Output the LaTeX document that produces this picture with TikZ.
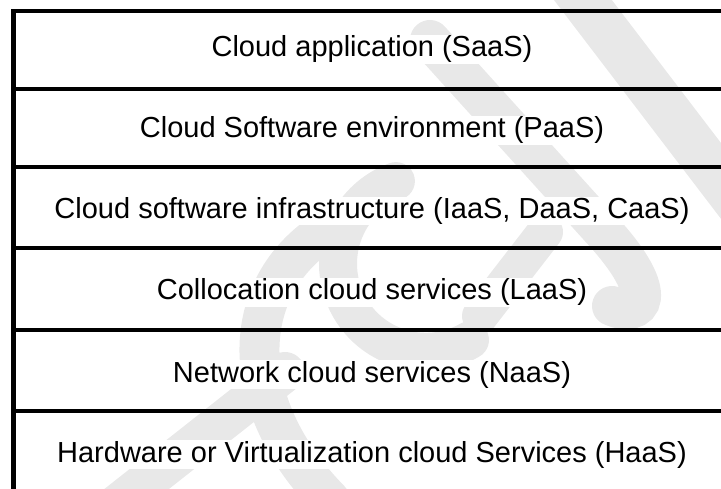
\documentclass[tikz,border=0pt]{standalone}
\usepackage{fontspec}
\setmainfont{Liberation Sans}
\begin{document}
\begin{tikzpicture}[x=1pt,y=-1pt,
  rule/.style={draw=black, line width=4.2pt},
  wmark/.style={draw=black!9, line width=40pt, line cap=round},
  layer/.style={fill=white, inner sep=0.6pt, anchor=base,
                font=\fontsize{29}{34}\selectfont}]
\useasboundingbox (0,0) rectangle (721,489);

% light grey watermark behind the table
\begin{scope}
  \clip (0,0) rectangle (721,489);
  \draw[wmark, line width=46pt] (560,-30) -- (760,232);
  \draw[wmark] (430,40) -- (600,228) .. controls (665,298) and (640,318) .. (612,306);
  \draw[wmark, line width=36pt] (545,232) -- (480,316);
  \draw[wmark] (330,228) .. controls (240,282) and (232,400) .. (330,500);
  \draw[wmark, line width=38pt] (470,340) arc[start angle=60, end angle=250, radius=88];
  \draw[wmark] (110,510) -- (285,372);
\end{scope}

% layer labels
\node[layer] (saas) at (372,57)  {Cloud application (SaaS)};
\node[layer] (paas) at (372,138) {Cloud Software environment (PaaS)};
\node[layer] (iaas) at (372,218.5) {Cloud software infrastructure (IaaS, DaaS, CaaS)};
\node[layer] (laas) at (372,300) {Collocation cloud services (LaaS)};
\node[layer] (naas) at (372,382) {Network cloud services (NaaS)};
\node[layer] (haas) at (372,462) {Hardware or Virtualization cloud Services (HaaS)};

% table rules
\coordinate (tl) at (13.5,11);
\draw[rule, line join=miter] (730,11) -- (tl) -- (13.5,500);
\foreach \y in {89,167,248,330,411}
  \draw[rule] (13.5,\y) -- (730,\y);
\end{tikzpicture}
\end{document}
